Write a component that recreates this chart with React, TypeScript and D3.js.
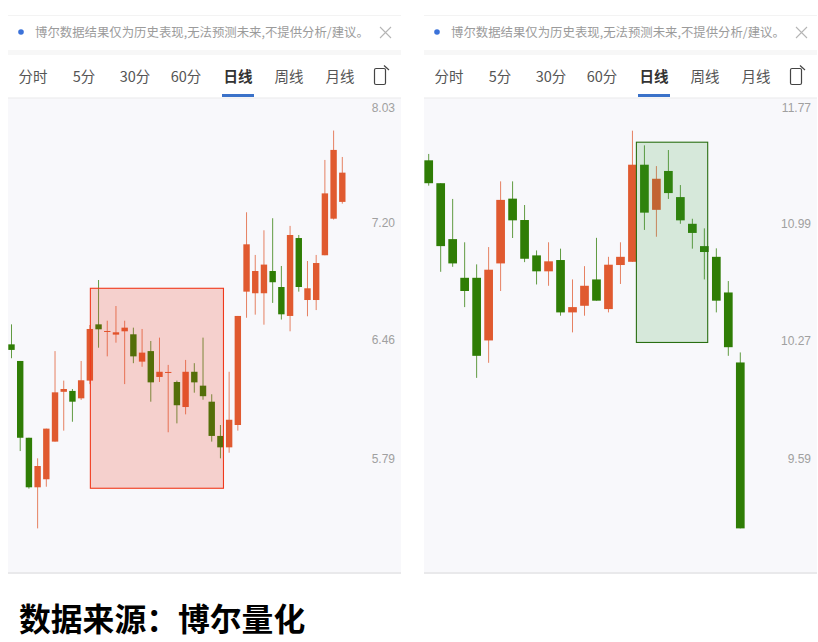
import * as d3 from 'd3';

const tabLabels = ['分时', '5分', '30分', '60分', '日线', '周线', '月线'];
const noticeText = '博尔数据结果仅为历史表现,无法预测未来,不提供分析/建议。';
const sourceText = '数据来源：博尔量化';

const leftTicks = [8.03, 7.2, 6.46, 5.79];
const leftHigh = [6.554, 6.336, 5.902, 5.791, 5.952, 6.394, 6.222, 6.174, 6.336, 6.55, 6.828, 6.576, 6.666, 6.576, 6.534, 6.526, 6.454, 6.474, 6.313, 6.222, 6.342, 6.323, 6.474, 6.144, 5.972, 6.273, 6.605, 7.269, 6.988, 7.149, 7.229, 6.917, 7.178, 7.118, 6.949, 6.988, 7.629, 7.839, 7.65];
const leftOpen = [6.434, 6.336, 5.902, 5.638, 5.68, 5.881, 6.158, 6.163, 6.121, 6.222, 6.554, 6.508, 6.492, 6.512, 6.494, 6.332, 6.394, 6.243, 6.268, 6.214, 6.072, 6.273, 6.193, 6.102, 5.912, 5.85, 5.972, 6.755, 6.745, 6.745, 6.885, 6.784, 6.605, 7.098, 6.703, 6.703, 6.986, 7.226, 7.339];
const leftClose = [6.401, 5.902, 5.638, 5.75, 5.952, 6.155, 6.174, 6.102, 6.224, 6.526, 6.524, 6.514, 6.506, 6.534, 6.363, 6.385, 6.212, 6.273, 6.272, 6.082, 6.273, 6.212, 6.133, 5.912, 5.85, 6.001, 6.605, 7.057, 6.885, 6.926, 6.814, 6.615, 7.118, 6.784, 6.776, 6.936, 7.397, 7.7, 7.54];
const leftLow = [6.352, 5.83, 5.631, 5.428, 5.641, 5.881, 5.941, 5.99, 6.112, 6.202, 6.414, 6.363, 6.444, 6.202, 6.323, 6.302, 6.102, 6.214, 5.932, 5.981, 6.031, 6.153, 6.113, 5.881, 5.791, 5.821, 5.941, 6.594, 6.613, 6.552, 6.685, 6.583, 6.512, 6.755, 6.603, 6.641, 6.986, 7.22, 7.327];
const leftZone = { from: 9.06, to: 24.35, high: 6.776, low: 5.633 };

const rightTicks = [11.77, 10.99, 10.27, 9.59];
const rightHigh = [11.438, 11.246, 11.144, 10.868, 10.73, 10.838, 11.258, 11.258, 11.105, 10.817, 10.868, 10.828, 10.637, 10.719, 10.896, 10.777, 10.868, 11.593, 11.495, 11.358, 11.464, 11.234, 11.017, 10.956, 10.83, 10.627, 10.197];
const rightOpen = [11.396, 11.246, 10.888, 10.647, 10.647, 10.268, 10.736, 11.146, 11.009, 10.786, 10.687, 10.757, 10.436, 10.476, 10.637, 10.456, 10.726, 10.746, 11.367, 11.074, 11.326, 11.156, 10.985, 10.844, 10.777, 10.557, 10.138];
const rightClose = [11.246, 10.844, 10.736, 10.566, 10.177, 10.697, 11.138, 11.007, 10.765, 10.687, 10.749, 10.436, 10.468, 10.598, 10.507, 10.728, 10.777, 11.367, 11.056, 11.275, 11.182, 11.007, 10.927, 10.807, 10.507, 10.228, 9.21];
const rightLow = [11.23, 10.684, 10.715, 10.468, 10.048, 10.136, 10.566, 10.895, 10.744, 10.606, 10.598, 10.416, 10.316, 10.416, 10.507, 10.436, 10.609, 10.746, 10.946, 10.903, 11.144, 10.985, 10.828, 10.637, 10.436, 10.177, 9.21];
const rightZone = { from: 17.33, to: 23.28, high: 11.516, low: 10.256 };

const upColor = '#e05a30';
const downColor = '#2f7d05';
const uiFont = '"Noto Sans CJK SC", sans-serif';
const numberFont = '"Liberation Sans", Arial, sans-serif';

type Zone = { from: number; to: number; high: number; low: number };

type PanelProps = {
  left: number;
  ticks: number[];
  high: number[];
  open: number[];
  close: number[];
  low: number[];
  zone: Zone;
  firstX: number;
  lastX: number;
  bodyWidth: number;
  zoneFill: string;
  zoneStroke: string;
};

function Panel({ left, ticks, high, open, close, low, zone, firstX, lastX, bodyWidth, zoneFill, zoneStroke }: PanelProps) {
  const dx = left - 8;
  const x = d3.scaleLinear().domain([0, high.length - 1]).range([firstX, lastX]);
  const y = d3.scaleLog().domain([ticks[ticks.length - 1], ticks[0]]).range([458.5, 104.5]);
  const tabCenters = [33, 84, 135, 186, 238, 289, 340];

  return (
    <g>
      <rect x={left} y={15} width={393} height={1} fill="#f3f3f3" />
      <rect x={left} y={50} width={393} height={5} fill="#f7f7f7" />
      <circle cx={21 + dx} cy={32} r={2.8} fill="#3b72d9" />
      <text x={35 + dx} y={37} fontSize={12.4} fill="#9b9b9b" fontFamily={uiFont}>
        {noticeText}
      </text>
      <path
        d={`M${380 + dx} 27L${391 + dx} 38M${391 + dx} 27L${380 + dx} 38`}
        stroke="#b5b5b5"
        strokeWidth={1.1}
        fill="none"
      />

      {tabLabels.map((label, i) => (
        <text
          key={label}
          x={tabCenters[i] + dx}
          y={82}
          fontSize={14.5}
          textAnchor="middle"
          fill={i === 4 ? '#333' : '#555'}
          fontWeight={i === 4 ? 700 : 400}
          fontFamily={uiFont}
        >
          {label}
        </text>
      ))}
      <rect x={222 + dx} y={94} width={32} height={3} fill="#3b72c9" />
      <rect x={374.5 + dx} y={68.5} width={11} height={16} rx={1.5} fill="none" stroke="#444" strokeWidth={1.2} />
      <path d={`M${384 + dx} 65.5L${389 + dx} 70`} stroke="#444" strokeWidth={1.2} fill="none" />

      <rect x={left} y={98} width={393} height={474} fill="#f8f8fb" />
      <rect x={left} y={97.5} width={393} height={1} fill="#eaeaec" />
      <rect x={left} y={572} width={393} height={2} fill="#e9e9eb" />

      {ticks.map((tick) => (
        <text
          key={tick}
          x={395 + dx}
          y={Math.max(y(tick), 107) + 4.5}
          textAnchor="end"
          fontSize={12}
          fill="#a0a0a0"
          fontFamily={numberFont}
        >
          {tick.toFixed(2)}
        </text>
      ))}

      {high.map((h, i) => {
        const color = close[i] >= open[i] ? upColor : downColor;
        const bodyTop = y(Math.max(open[i], close[i]));
        const bodyBottom = y(Math.min(open[i], close[i]));
        return (
          <g key={i}>
            <line x1={x(i)} x2={x(i)} y1={y(h)} y2={y(low[i])} stroke={color} strokeWidth={1} opacity={0.75} />
            <rect
              x={x(i) - bodyWidth / 2}
              y={bodyTop}
              width={bodyWidth}
              height={Math.max(bodyBottom - bodyTop, 1)}
              fill={color}
            />
          </g>
        );
      })}

      <rect
        x={x(zone.from)}
        y={y(zone.high)}
        width={x(zone.to) - x(zone.from)}
        height={y(zone.low) - y(zone.high)}
        fill={zoneFill}
        stroke={zoneStroke}
        strokeWidth={1.1}
      />
    </g>
  );
}

export default function App() {
  return (
    <svg
      width={818}
      height={642}
      viewBox="0 0 818 642"
      style={{ position: 'absolute', left: 0, top: 0, background: '#fff' }}
    >
      <Panel
        left={8}
        ticks={leftTicks}
        high={leftHigh}
        open={leftOpen}
        close={leftClose}
        low={leftLow}
        zone={leftZone}
        firstX={11.5}
        lastX={342.3}
        bodyWidth={6.4}
        zoneFill="rgba(235, 50, 25, 0.2)"
        zoneStroke="#f0391c"
      />
      <Panel
        left={424}
        ticks={rightTicks}
        high={rightHigh}
        open={rightOpen}
        close={rightClose}
        low={rightLow}
        zone={rightZone}
        firstX={428.7}
        lastX={740.3}
        bodyWidth={8.7}
        zoneFill="rgba(48, 154, 57, 0.17)"
        zoneStroke="#2a6f12"
      />
      <text x={19} y={631} fontSize={31.8} fontWeight={700} fill="#000" fontFamily={uiFont}>
        {sourceText}
      </text>
    </svg>
  );
}
